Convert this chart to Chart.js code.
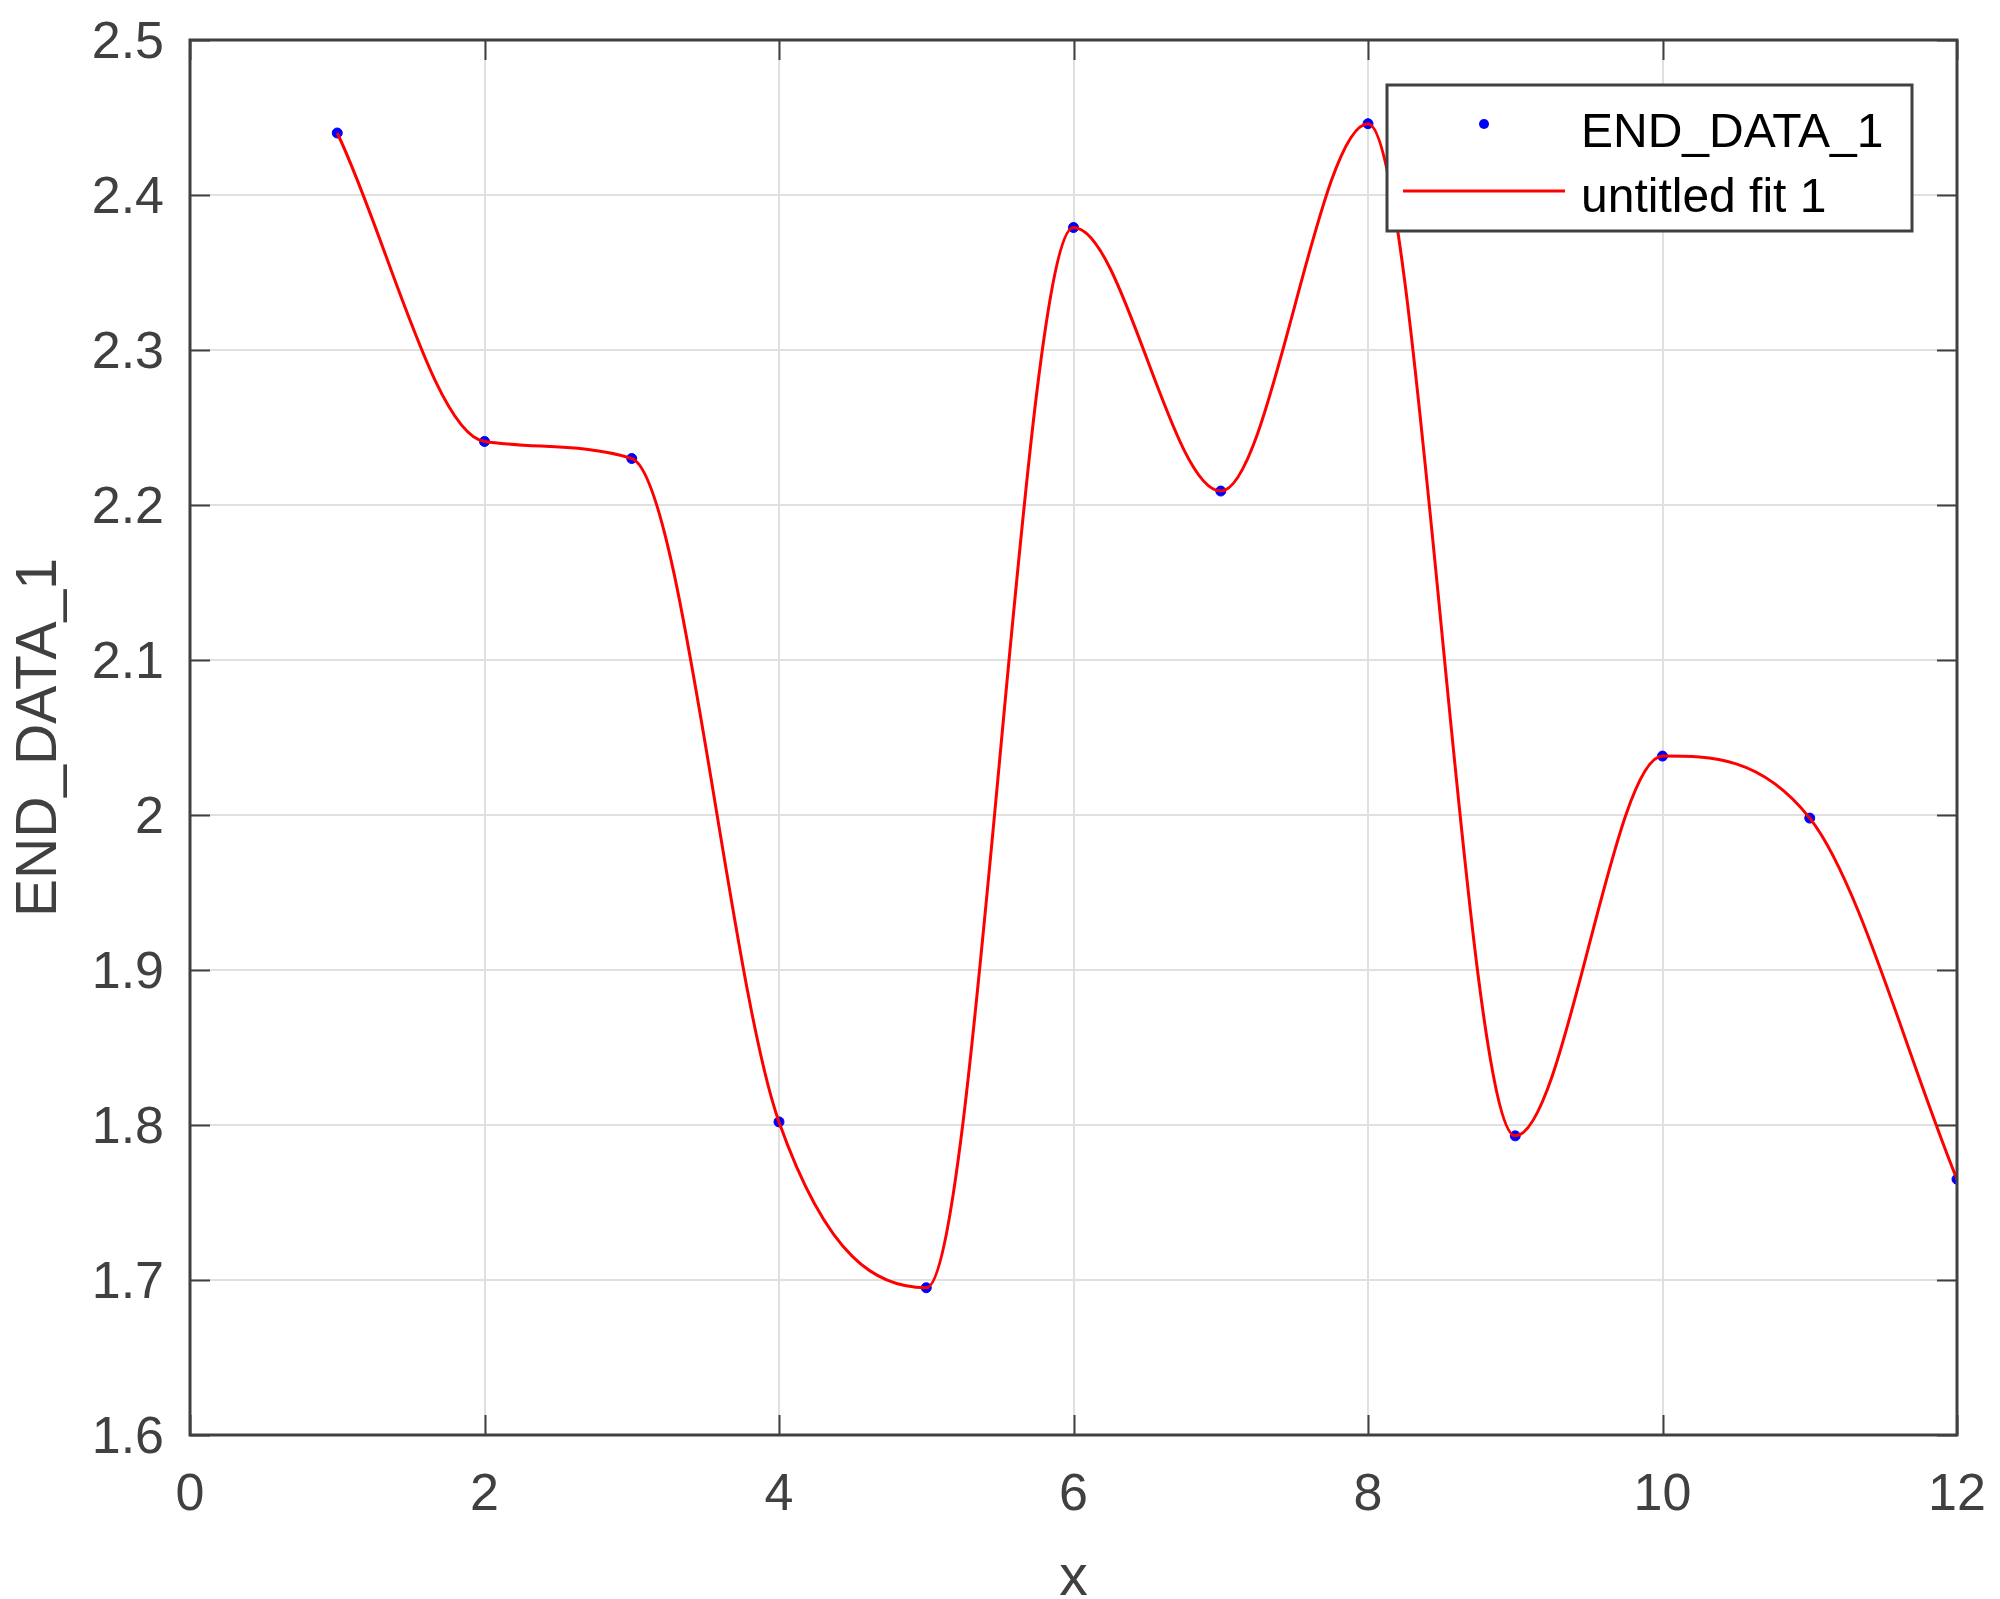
<!DOCTYPE html>
<html>
<head>
<meta charset="utf-8">
<script src="https://cdn.jsdelivr.net/npm/chart.js@4/dist/chart.umd.min.js"></script>
<style>
  body { margin: 0; background: #fff; }
  #wrap { width: 2000px; height: 1599px; }
</style>
</head>
<body>
<div id="wrap"><canvas id="c" width="2000" height="1599"></canvas></div>
<script>
var xValues = [1, 2, 3, 4, 5, 6, 7, 8, 9, 10, 11, 12];
var endData = [2.440, 2.241, 2.230, 1.802, 1.695, 2.379, 2.209, 2.446, 1.793, 2.038, 1.998, 1.765];
var seriesNames = ['END_DATA_1', 'untitled fit 1'];
var xTitle = 'x';
var yTitle = 'END_DATA_1';

var axisColor = '#404040';
var gridColor = '#e0e0e0';
var fontFamily = '"Liberation Sans", Arial, sans-serif';

function toPoints(xs, ys) {
  var out = [];
  for (var i = 0; i < xs.length; i++) {
    out.push({x: xs[i], y: ys[i]});
  }
  return out;
}

// box round the plot and inward ticks on all four sides, like matlab
var boxPlugin = {
  id: 'box',
  afterDraw: function(chart) {
    var ctx = chart.ctx, a = chart.chartArea;
    var xs = chart.scales.x, ys = chart.scales.y;
    var len = 20;
    ctx.save();
    ctx.strokeStyle = axisColor;
    ctx.lineWidth = 2;
    ctx.beginPath();
    xs.ticks.forEach(function(t) {
      var px = Math.round(xs.getPixelForValue(t.value)) + 0.5;
      ctx.moveTo(px, a.bottom); ctx.lineTo(px, a.bottom - len);
      ctx.moveTo(px, a.top); ctx.lineTo(px, a.top + len);
    });
    ys.ticks.forEach(function(t) {
      var py = Math.round(ys.getPixelForValue(t.value)) + 0.5;
      ctx.moveTo(a.left, py); ctx.lineTo(a.left + len, py);
      ctx.moveTo(a.right, py); ctx.lineTo(a.right - len, py);
    });
    ctx.stroke();
    ctx.lineWidth = 3;
    ctx.strokeRect(a.left, a.top, a.right - a.left, a.bottom - a.top);
    ctx.restore();
  }
};

// legend box in the top right corner
var legendPlugin = {
  id: 'matlabLegend',
  afterDraw: function(chart) {
    var ctx = chart.ctx, a = chart.chartArea;
    var bw = 525, bh = 146;
    var bx = a.right - 45 - bw, by = a.top + 45;
    ctx.save();
    ctx.fillStyle = '#fff';
    ctx.fillRect(bx, by, bw, bh);
    ctx.strokeStyle = axisColor;
    ctx.lineWidth = 3;
    ctx.strokeRect(bx, by, bw, bh);

    ctx.fillStyle = '#0000ff';
    ctx.beginPath();
    ctx.arc(bx + 97, by + 39, 5, 0, Math.PI * 2);
    ctx.fill();

    ctx.strokeStyle = '#ff0000';
    ctx.lineWidth = 3;
    ctx.beginPath();
    ctx.moveTo(bx + 16, by + 106);
    ctx.lineTo(bx + 178, by + 106);
    ctx.stroke();

    ctx.fillStyle = '#000';
    ctx.font = '48px ' + fontFamily;
    ctx.textBaseline = 'alphabetic';
    var rows = [by + 62, by + 127];
    for (var i = 0; i < seriesNames.length; i++) {
      ctx.fillText(seriesNames[i], bx + 194, rows[i]);
    }
    ctx.restore();
  }
};

var chart = new Chart(document.getElementById('c'), {
  type: 'scatter',
  data: {
    datasets: [
      {
        label: seriesNames[1],
        type: 'line',
        data: toPoints(xValues, endData),
        borderColor: '#ff0000',
        borderWidth: 3,
        pointRadius: 0,
        fill: false,
        cubicInterpolationMode: 'monotone',
        order: 1
      },
      {
        label: seriesNames[0],
        data: toPoints(xValues, endData),
        backgroundColor: '#0000ff',
        borderColor: '#0000ff',
        pointRadius: 5,
        showLine: false,
        order: 2
      }
    ]
  },
  options: {
    responsive: false,
    animation: false,
    layout: { padding: { top: 40, right: 43, bottom: 0, left: 0 } },
    plugins: {
      legend: { display: false },
      tooltip: { enabled: false }
    },
    scales: {
      x: {
        type: 'linear',
        min: 0,
        max: 12,
        ticks: {
          stepSize: 2,
          color: axisColor,
          padding: 29,
          font: { family: fontFamily, size: 52 }
        },
        grid: { color: gridColor, lineWidth: 2, drawTicks: false },
        border: { display: false },
        title: {
          display: true,
          text: xTitle,
          color: axisColor,
          font: { family: fontFamily, size: 57, lineHeight: 0.7 },
          padding: { top: 0, bottom: 0 }
        },
        afterFit: function(s) {
          s.height = 164;
          s.paddingLeft = 0;
          s.paddingRight = 0;
        }
      },
      y: {
        type: 'linear',
        min: 1.6,
        max: 2.5,
        ticks: {
          stepSize: 0.1,
          color: axisColor,
          padding: 26,
          labelOffset: 4,
          font: { family: fontFamily, size: 52 },
          callback: function(v) { return String(Math.round(v * 10) / 10); }
        },
        grid: { color: gridColor, lineWidth: 2, drawTicks: false },
        border: { display: false },
        title: {
          display: true,
          text: yTitle,
          color: axisColor,
          font: { family: fontFamily, size: 57, lineHeight: 1 },
          padding: { top: 12, bottom: 0 }
        },
        afterFit: function(s) {
          s.width = 190;
          s.paddingTop = 0;
          s.paddingBottom = 0;
        }
      }
    }
  },
  plugins: [boxPlugin, legendPlugin]
});
</script>
</body>
</html>
